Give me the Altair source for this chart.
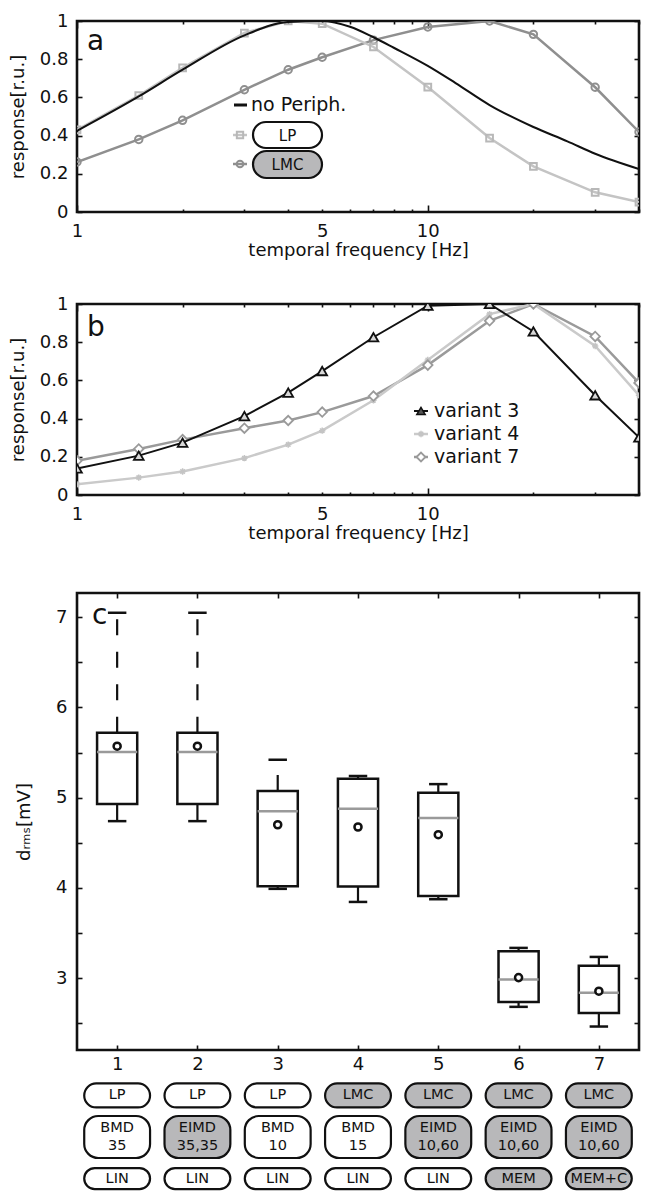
import altair as alt
import pandas as pd

FONT = "DejaVu Sans"
BLACK = "#111111"
GRAY_FILL = "#b8b8ba"

# ---------------- data ----------------
freq = [1, 1.5, 2, 3, 4, 5, 7, 10, 15, 20, 30, 40]
lp_resp = [0.43, 0.61, 0.755, 0.937, 1.0, 0.986, 0.864, 0.654, 0.387, 0.239, 0.103, 0.052]
lmc_resp = [0.262, 0.38, 0.48, 0.64, 0.745, 0.81, 0.90, 0.969, 1.0, 0.93, 0.653, 0.419]
np_freq = [1, 1.5, 2, 3, 4, 5, 6, 7, 8, 10, 12, 15, 20, 25, 30, 40]
np_resp = [0.425, 0.605, 0.745, 0.925, 0.995, 1.0, 0.97, 0.915, 0.86, 0.765, 0.675, 0.56, 0.445, 0.37, 0.305, 0.225]

v3_resp = [0.139, 0.206, 0.274, 0.413, 0.536, 0.649, 0.826, 0.991, 1.0, 0.856, 0.522, 0.302]
v4_resp = [0.056, 0.091, 0.123, 0.193, 0.264, 0.337, 0.496, 0.707, 0.947, 1.0, 0.78, 0.522]
v7_resp = [0.179, 0.241, 0.29, 0.35, 0.39, 0.434, 0.518, 0.68, 0.912, 1.0, 0.83, 0.587]

box_pos = [1, 2, 3, 4, 5, 6, 7]
box_lo = [4.74, 4.74, 3.99, 3.845, 3.875, 2.683, 2.465]
box_q1 = [4.93, 4.93, 4.02, 4.015, 3.91, 2.738, 2.616]
box_med = [5.505, 5.505, 4.85, 4.878, 4.775, 2.985, 2.84]
box_mean = [5.57, 5.57, 4.70, 4.675, 4.59, 3.007, 2.856]
box_q3 = [5.72, 5.72, 5.074, 5.21, 5.055, 3.30, 3.137]
box_hi = [7.048, 7.048, 5.42, 5.24, 5.15, 3.336, 3.236]

periph_row = ["LP", "LP", "LP", "LMC", "LMC", "LMC", "LMC"]
periph_shade = ["w", "w", "w", "g", "g", "g", "g"]
detector_row = ["BMD\n35", "EIMD\n35,35", "BMD\n10", "BMD\n15", "EIMD\n10,60", "EIMD\n10,60", "EIMD\n10,60"]
detector_shade = ["w", "g", "w", "w", "g", "g", "g"]
output_row = ["LIN", "LIN", "LIN", "LIN", "LIN", "MEM", "MEM+C"]
output_shade = ["w", "w", "w", "w", "w", "g", "g"]

x_labels_ab = [1, 5, 10]
x_major_ab = [1, 10]
x_minor_ab = [2, 3, 4, 5, 6, 7, 8, 9, 20, 30, 40]
y_ticks_ab = [0, 0.2, 0.4, 0.6, 0.8, 1]
x_ticks_c = [1, 2, 3, 4, 5, 6, 7]
y_labels_c = [3, 4, 5, 6, 7]
y_ticks_c = [2.5, 3, 3.5, 4, 4.5, 5, 5.5, 6, 6.5, 7]

W_AB, H_AB = 562, 191
W_C, H_C = 562, 457

ASTERISK = "M-1,0H1M0,-1V1M-0.7,-0.7L0.7,0.7M-0.7,0.7L0.7,-0.7"


def tick_layers(df, xf, yf, xsc, ysc, W, H, xsets, yvals, ylen=5):
    layers = []
    for i, (vals, ln) in enumerate(xsets):
        for xo, yo in (("top", "right"), ("bottom", "left")):
            yaxis = (alt.Axis(orient=yo, offset=-W, values=yvals, labels=False, domain=False,
                              tickSize=ylen, title=None) if i == 0 else None)
            layers.append(
                alt.Chart(df).mark_point(opacity=0, clip=True).encode(
                    x=alt.X(xf, scale=xsc, axis=alt.Axis(orient=xo, offset=-H, values=vals, labels=False,
                                                         domain=False, tickSize=ln, title=None)),
                    y=alt.Y(yf, scale=ysc, axis=yaxis),
                )
            )
    return layers


def txt(s, x, y, size=19, align="left", baseline="middle"):
    return alt.Chart(pd.DataFrame({"t": [s]})).mark_text(
        font=FONT, fontSize=size, align=align, baseline=baseline, color=BLACK
    ).encode(text="t:N", x=alt.value(x), y=alt.value(y))


def hseg(x1, x2, y, color, width=2.5):
    return alt.Chart(pd.DataFrame({"t": [0]})).mark_rule(color=color, strokeWidth=width).encode(
        x=alt.value(x1), x2=alt.value(x2), y=alt.value(y))


def sym(x, y, **kw):
    return alt.Chart(pd.DataFrame({"t": [0]})).mark_point(**kw).encode(x=alt.value(x), y=alt.value(y))


def pill(x1, x2, y1, y2, fill):
    return alt.Chart(pd.DataFrame({"t": [0]})).mark_rect(
        fill=fill, stroke=BLACK, strokeWidth=2.2, cornerRadius=(y2 - y1) / 2
    ).encode(x=alt.value(x1), x2=alt.value(x2), y=alt.value(y1), y2=alt.value(y2))


XS = alt.Scale(type="log", domain=[1, 40], nice=False)
YS = alt.Scale(domain=[0, 1], nice=False, zero=False)


def main_axes(title_x, title_y):
    ax = alt.Axis(orient="bottom", values=x_labels_ab, ticks=False, domain=False, format="~g",
                  labelFlush=False, labelPadding=10, title=title_x, titlePadding=1)
    ay = alt.Axis(orient="left", values=y_ticks_ab, ticks=False, domain=False, format="~g",
                  labelFlush=False, labelPadding=9, title=title_y, titlePadding=12)
    return ax, ay


# ---------------- panel a ----------------
df_np = pd.DataFrame({"f": np_freq, "r": np_resp})
df_lp = pd.DataFrame({"f": freq, "r": lp_resp})
df_lmc = pd.DataFrame({"f": freq, "r": lmc_resp})

ax_a, ay_a = main_axes("temporal frequency [Hz]", "response[r.u.]")
enc_none = dict(x=alt.X("f:Q", scale=XS, axis=None), y=alt.Y("r:Q", scale=YS, axis=None))

a_layers = [
    alt.Chart(df_lmc).mark_line(color="#8f8f8f", strokeWidth=2.5, clip=True).encode(
        x=alt.X("f:Q", scale=XS, axis=ax_a), y=alt.Y("r:Q", scale=YS, axis=ay_a)),
    alt.Chart(df_lmc).mark_point(shape="circle", filled=False, color="#8f8f8f", strokeWidth=2, size=55,
                                 opacity=1, clip=True).encode(**enc_none),
    alt.Chart(df_lp).mark_line(color="#c4c4c4", strokeWidth=2.5, clip=True).encode(**enc_none),
    alt.Chart(df_lp).mark_point(shape="square", filled=False, color="#b8b8b8", strokeWidth=2, size=45,
                                opacity=1, clip=True).encode(**enc_none),
    alt.Chart(df_np).mark_line(color=BLACK, strokeWidth=2, interpolate="monotone", clip=True).encode(**enc_none),
]
a_layers += tick_layers(df_lp, "f:Q", "r:Q", XS, YS, W_AB, H_AB,
                        [(x_minor_ab, 3), (x_major_ab, 7)], y_ticks_ab)
a_layers += [
    txt("a", 10, 29, size=28, baseline="alphabetic"),
    hseg(157, 170, 84, BLACK, 3),
    txt("no Periph.", 174, 84),
    hseg(156, 170, 114, "#c4c4c4", 2.5),
    sym(163, 114, shape="square", filled=False, color="#b8b8b8", strokeWidth=2, size=40, opacity=1),
    pill(176, 245, 101, 127, "white"),
    txt("LP", 210.5, 114.5, size=15, align="center"),
    hseg(156, 170, 143, "#8f8f8f", 2.5),
    sym(163, 143, shape="circle", filled=False, color="#8f8f8f", strokeWidth=2, size=45, opacity=1),
    pill(176, 245, 130, 157, GRAY_FILL),
    txt("LMC", 210.5, 143.5, size=15, align="center"),
]
chart_a = alt.layer(*a_layers).resolve_axis(x="independent", y="independent").properties(
    width=W_AB, height=H_AB)

# ---------------- panel b ----------------
df_v3 = pd.DataFrame({"f": freq, "r": v3_resp})
df_v4 = pd.DataFrame({"f": freq, "r": v4_resp})
df_v7 = pd.DataFrame({"f": freq, "r": v7_resp})
ax_b, ay_b = main_axes("temporal frequency [Hz]", "response[r.u.]")

b_layers = [
    alt.Chart(df_v7).mark_line(color="#9a9a9a", strokeWidth=2.5, clip=True).encode(
        x=alt.X("f:Q", scale=XS, axis=ax_b), y=alt.Y("r:Q", scale=YS, axis=ay_b)),
    alt.Chart(df_v4).mark_line(color="#cacaca", strokeWidth=2.5, clip=True).encode(**enc_none),
    alt.Chart(df_v4).mark_point(shape=ASTERISK, filled=False, color="#c4c4c4", strokeWidth=1.5, size=40,
                                opacity=1, clip=True).encode(**enc_none),
    alt.Chart(df_v7).mark_point(shape="diamond", filled=True, fill="white", stroke="#9a9a9a", strokeWidth=1.8,
                                size=90, opacity=1, clip=True).encode(**enc_none),
    alt.Chart(df_v3).mark_line(color=BLACK, strokeWidth=2, clip=True).encode(**enc_none),
    alt.Chart(df_v3).mark_point(shape="triangle-up", filled=True, fill="#d8d8d8", stroke=BLACK, strokeWidth=1.8,
                                size=95, opacity=1, clip=True).encode(**enc_none),
]
b_layers += tick_layers(df_v3, "f:Q", "r:Q", XS, YS, W_AB, H_AB,
                        [(x_minor_ab, 3), (x_major_ab, 7)], y_ticks_ab)
b_layers += [
    txt("b", 10, 32, size=28, baseline="alphabetic"),
    hseg(337, 351, 107, BLACK, 2),
    sym(344, 107, shape="triangle-up", filled=True, fill="#555555", stroke=BLACK, strokeWidth=1.5, size=70,
        opacity=1),
    txt("variant 3", 357, 107),
    hseg(337, 351, 130, "#cacaca", 2.5),
    sym(344, 130, shape=ASTERISK, filled=False, color="#c4c4c4", strokeWidth=1.5, size=40, opacity=1),
    txt("variant 4", 357, 130),
    hseg(337, 351, 153, "#9a9a9a", 2.5),
    sym(344, 153, shape="diamond", filled=True, fill="white", stroke="#9a9a9a", strokeWidth=1.8, size=80,
        opacity=1),
    txt("variant 7", 357, 153),
]
chart_b = alt.layer(*b_layers).resolve_axis(x="independent", y="independent").properties(
    width=W_AB, height=H_AB)

# ---------------- panel c ----------------
XC = alt.Scale(domain=[0.5, 7.5], nice=False, zero=False)
YC = alt.Scale(domain=[2.205, 7.267], nice=False, zero=False)
df_box = pd.DataFrame({"pos": box_pos, "lo": box_lo, "q1": box_q1, "med": box_med,
                       "mean": box_mean, "q3": box_q3, "hi": box_hi})
base_c = alt.Chart(df_box).transform_calculate(
    xl="datum.pos - 0.25", xr="datum.pos + 0.25", cl="datum.pos - 0.115", cr="datum.pos + 0.115")

xn = lambda f: alt.X(f, scale=XC, axis=None)
yn = lambda f: alt.Y(f, scale=YC, axis=None)

ax_c = alt.Axis(orient="bottom", values=x_ticks_c, ticks=False, domain=False, labelPadding=5, title=None,
                labelFlush=False)
ay_c = alt.Axis(orient="left", values=y_labels_c, ticks=False, domain=False, labelPadding=10,
                title="d\u1d63\u2098\u209b[mV]", titlePadding=22, labelFlush=False)

c_layers = [
    base_c.mark_rule(color=BLACK, strokeWidth=2.2, strokeDash=[16, 16.5]).encode(
        x=alt.X("pos:Q", scale=XC, axis=ax_c), y=alt.Y("q3:Q", scale=YC, axis=ay_c), y2="hi:Q"),
    base_c.mark_rule(color=BLACK, strokeWidth=2.2, strokeDash=[16, 16.5]).encode(
        x=xn("pos:Q"), y=yn("q1:Q"), y2="lo:Q"),
    base_c.mark_rule(color=BLACK, strokeWidth=2.5).encode(x=xn("cl:Q"), x2="cr:Q", y=yn("hi:Q")),
    base_c.mark_rule(color=BLACK, strokeWidth=2.5).encode(x=xn("cl:Q"), x2="cr:Q", y=yn("lo:Q")),
    base_c.mark_rect(fill="white", stroke=BLACK, strokeWidth=2.5).encode(
        x=xn("xl:Q"), x2="xr:Q", y=yn("q1:Q"), y2="q3:Q"),
    base_c.mark_rule(color="#9a9a9a", strokeWidth=2.5).encode(x=xn("xl:Q"), x2="xr:Q", y=yn("med:Q")),
    base_c.mark_point(shape="circle", filled=True, fill="white", stroke=BLACK, strokeWidth=2.5, size=50,
                      opacity=1).encode(x=xn("pos:Q"), y=yn("mean:Q")),
]
c_layers += tick_layers(df_box, "pos:Q", "q1:Q", XC, YC, W_C, H_C, [(x_ticks_c, 5)], y_ticks_c)
c_layers += [txt("c", 15, 31, size=28, baseline="alphabetic")]
chart_c = alt.layer(*c_layers).resolve_axis(x="independent", y="independent").properties(
    width=W_C, height=H_C)

# ---------------- pills ----------------
rows = ["periphery", "detector", "output"]
YP = alt.Scale(type="point", domain=rows, padding=0.3)
FILLS = alt.Scale(domain=["w", "g"], range=["white", GRAY_FILL])
pill_layers = []
for rname, labels, shades, h, dy in [("periphery", periph_row, periph_shade, 24, 0),
                                     ("detector", detector_row, detector_shade, 42, -9),
                                     ("output", output_row, output_shade, 21, 0)]:
    dfp = pd.DataFrame({"pos": box_pos, "label": labels, "shade": shades, "row": [rname] * 7})
    bp = alt.Chart(dfp).transform_calculate(pl="datum.pos - 0.41", pr="datum.pos + 0.41")
    pill_layers.append(
        bp.mark_rect(height=h, cornerRadius=min(h / 2, 14), stroke=BLACK, strokeWidth=2.2).encode(
            x=alt.X("pl:Q", scale=XC, axis=None), x2="pr:Q",
            y=alt.Y("row:N", scale=YP, axis=None),
            fill=alt.Fill("shade:N", scale=FILLS, legend=None)))
    pill_layers.append(
        bp.mark_text(font=FONT, fontSize=14.5, lineBreak="\n", lineHeight=18, color=BLACK,
                     baseline="middle", dy=dy).encode(
            x=alt.X("pos:Q", scale=XC, axis=None), y=alt.Y("row:N", scale=YP, axis=None), text="label:N"))
chart_p = alt.layer(*pill_layers).properties(width=W_C, height=108,
                                             view=alt.ViewBackground(stroke="transparent"))

top = alt.vconcat(chart_a, chart_b, spacing=32)
bottom = alt.vconcat(chart_c, chart_p, spacing=6)
chart = alt.vconcat(top, bottom, spacing=46).properties(
    padding={"left": 0, "top": 2, "right": 0, "bottom": 0}
).configure(font=FONT).configure_axis(
    grid=False, labelFont=FONT, titleFont=FONT, labelFontSize=18, titleFontSize=18,
    titleFontWeight="normal", labelColor=BLACK, titleColor=BLACK, tickColor=BLACK, tickWidth=1.6
).configure_view(stroke=BLACK, strokeWidth=2.6)

chart.save("out.html", embed_options={"renderer": "svg", "actions": False})
